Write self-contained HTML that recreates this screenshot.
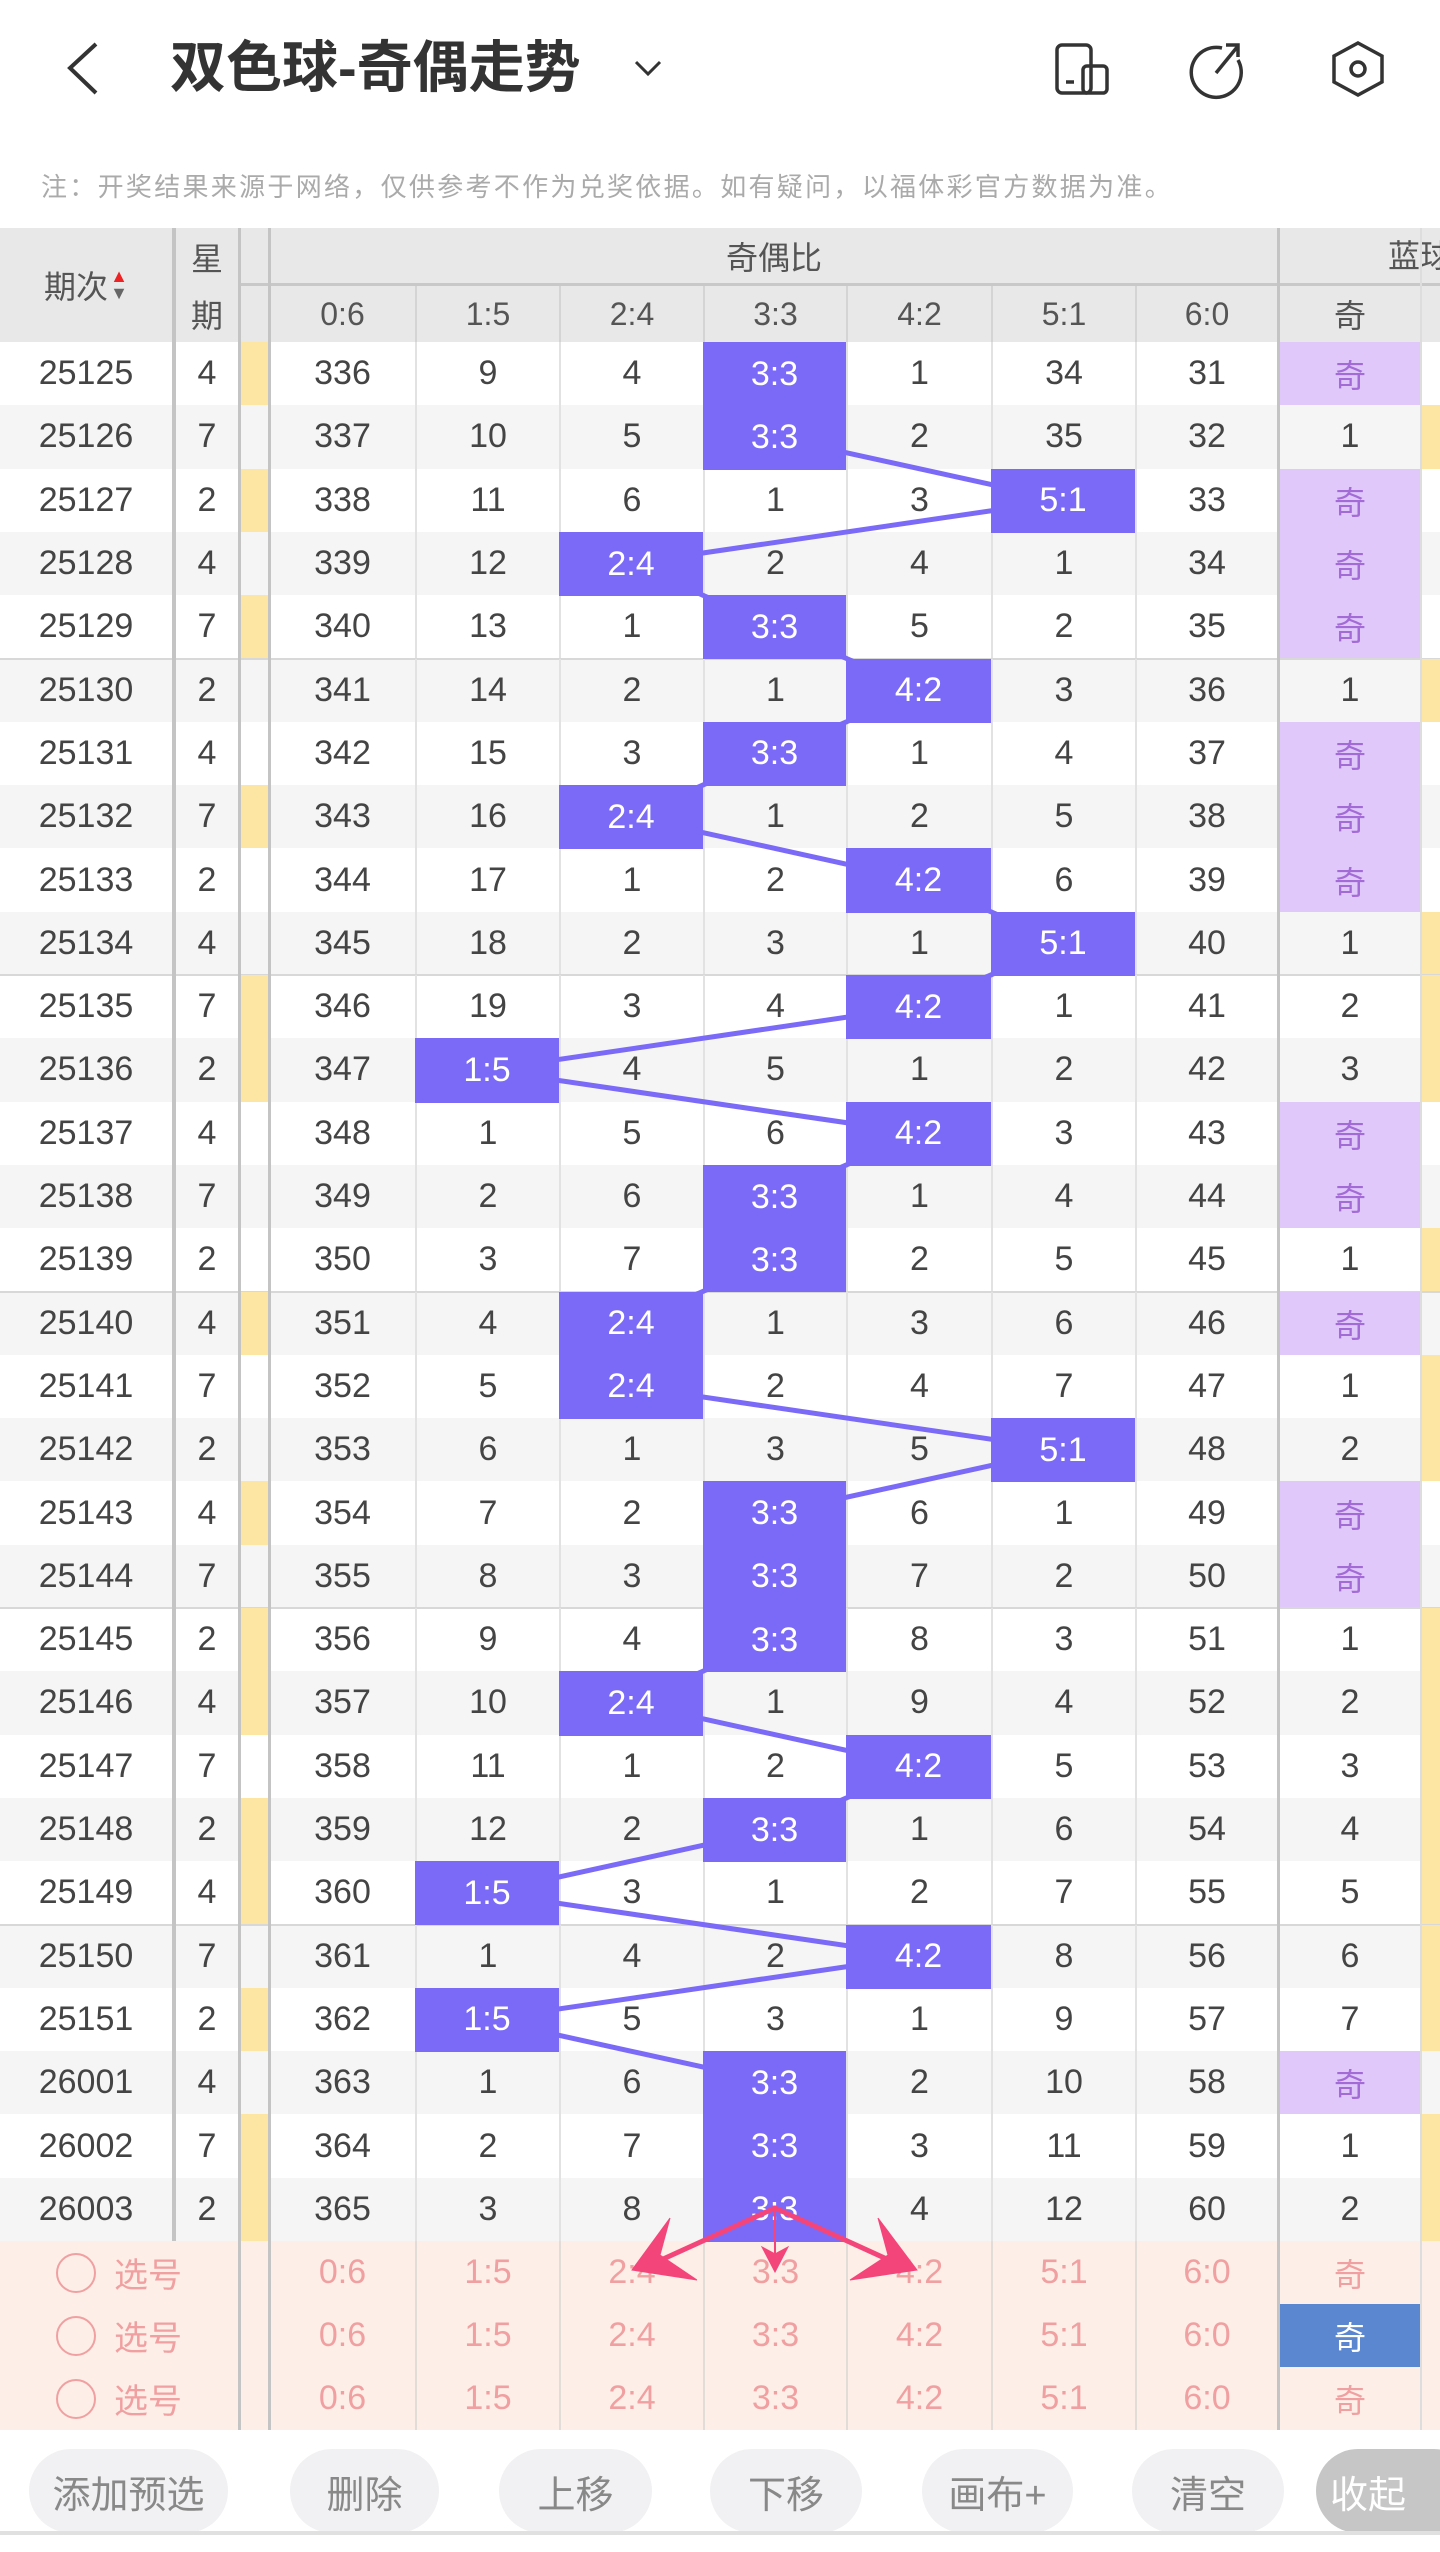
<!DOCTYPE html>
<html><head><meta charset="utf-8">
<style>
*{margin:0;padding:0;box-sizing:border-box}
body{width:1440px;height:2552px;background:#fff;font-family:"Liberation Sans","Noto Sans CJK SC",sans-serif;position:relative;overflow:hidden}
.a{position:absolute}
.c{position:absolute;display:flex;align-items:center;justify-content:center;white-space:nowrap}
</style></head><body>
<div id="root"></div>
<script>
var H='';
function box(x,y,w,h,st,txt){H+='<div class="c" style="left:'+x+'px;top:'+y+'px;width:'+w+'px;height:'+h+'px;'+st+'">'+(txt||'')+'</div>';}
H+='<svg class="a" style="left:0;top:0" width="1440" height="140"><polyline points="96,44 70,68 96,93" fill="none" stroke="#333" stroke-width="4"/><polyline points="636,62 648,74 660,62" fill="none" stroke="#333" stroke-width="3"/>'+
'<rect x="1057" y="45" width="34" height="48" rx="5" fill="none" stroke="#333" stroke-width="3.5"/><rect x="1083" y="66" width="24" height="27" rx="4" fill="none" stroke="#333" stroke-width="3.5"/><line x1="1066" y1="82" x2="1074" y2="82" stroke="#333" stroke-width="3.5"/>'+
'<path d="M1222,48 A25,25 0 1 0 1238,60" fill="none" stroke="#333" stroke-width="3.5"/><line x1="1216" y1="73" x2="1238" y2="46" stroke="#333" stroke-width="3.5"/><polyline points="1226,45 1238,45 1238,57" fill="none" stroke="#333" stroke-width="3.5"/>'+
'<polygon points="1358,43 1382,56 1382,82 1358,95 1334,82 1334,56" fill="none" stroke="#333" stroke-width="3.5"/><circle cx="1358" cy="69" r="7" fill="none" stroke="#333" stroke-width="3.5"/></svg>';
H+='<div class="a" style="left:170px;top:34px;font-size:56px;font-weight:bold;color:#333;line-height:68px;white-space:nowrap">双色球-奇偶走势</div>';
H+='<div class="a" style="left:41px;top:172px;font-size:26px;letter-spacing:2.3px;color:#aaa;line-height:30px;white-space:nowrap">注：开奖结果来源于网络，仅供参考不作为兑奖依据。如有疑问，以福体彩官方数据为准。</div>';
var cx=[270,415,559,703,846,991,1135,1277];
var labels=['0:6','1:5','2:4','3:3','4:2','5:1','6:0'];
box(0,228,1440,114,'background:#e8e8e8');
box(0,228,172,114,'font-size:32px;color:#555','期次<span style="display:inline-block;width:18px;margin-left:2px;font-size:18px;line-height:17px;text-align:center"><span style="color:#e22">▲</span><br><span style="color:#666">▼</span></span>');
box(176,228,62,57,'font-size:32px;color:#555','星');
box(176,285,62,57,'font-size:32px;color:#555','期');
box(271,228,1006,56,'font-size:32px;color:#555','奇偶比');
H+='<div class="a" style="left:1388px;top:238px;font-size:32px;color:#555;white-space:nowrap;line-height:36px">蓝球</div>';
H+='<div class="a" style="left:238px;top:283px;width:1202px;height:3px;background:#c8c8c8"></div>';
for(var i=0;i<7;i++){box(cx[i],286,cx[i+1]-cx[i],56,'font-size:32px;color:#555;border-left:'+(i?'2px solid #d4d4d4':'none'),labels[i]);}
box(1280,286,140,56,'font-size:32px;color:#555','奇');
var D=[
['25125',4,1,[336,9,4,0,1,34,31],3,'奇'],['25126',7,0,[337,10,5,0,2,35,32],3,'1'],['25127',2,1,[338,11,6,1,3,0,33],5,'奇'],['25128',4,0,[339,12,0,2,4,1,34],2,'奇'],['25129',7,1,[340,13,1,0,5,2,35],3,'奇'],
['25130',2,0,[341,14,2,1,0,3,36],4,'1'],['25131',4,0,[342,15,3,0,1,4,37],3,'奇'],['25132',7,1,[343,16,0,1,2,5,38],2,'奇'],['25133',2,0,[344,17,1,2,0,6,39],4,'奇'],['25134',4,0,[345,18,2,3,1,0,40],5,'1'],
['25135',7,1,[346,19,3,4,0,1,41],4,'2'],['25136',2,1,[347,0,4,5,1,2,42],1,'3'],['25137',4,0,[348,1,5,6,0,3,43],4,'奇'],['25138',7,0,[349,2,6,0,1,4,44],3,'奇'],['25139',2,0,[350,3,7,0,2,5,45],3,'1'],
['25140',4,1,[351,4,0,1,3,6,46],2,'奇'],['25141',7,0,[352,5,0,2,4,7,47],2,'1'],['25142',2,0,[353,6,1,3,5,0,48],5,'2'],['25143',4,1,[354,7,2,0,6,1,49],3,'奇'],['25144',7,0,[355,8,3,0,7,2,50],3,'奇'],
['25145',2,1,[356,9,4,0,8,3,51],3,'1'],['25146',4,1,[357,10,0,1,9,4,52],2,'2'],['25147',7,0,[358,11,1,2,0,5,53],4,'3'],['25148',2,1,[359,12,2,0,1,6,54],3,'4'],['25149',4,1,[360,0,3,1,2,7,55],1,'5'],
['25150',7,0,[361,1,4,2,0,8,56],4,'6'],['25151',2,1,[362,0,5,3,1,9,57],1,'7'],['26001',4,0,[363,1,6,0,2,10,58],3,'奇'],['26002',7,1,[364,2,7,0,3,11,59],3,'1'],['26003',2,1,[365,3,8,0,4,12,60],3,'2']];
var RH=63.3,T=342;
var pts=[];
for(var r=0;r<30;r++){
 var y=T+r*RH,d=D[r],bg=r%2?'#f5f5f5':'#fff';
 box(0,y,1440,RH+1,'background:'+bg);
 if(r%5==0&&r>0)H+='<div class="a" style="left:0;top:'+(y-1)+'px;width:1440px;height:2px;background:#d8d8d8"></div>';
 box(0,y,172,RH,'font-size:34px;color:#444',d[0]);
 box(176,y,62,RH,'font-size:34px;color:#444',d[1]);
 if(d[2])box(241,y,27,RH,'background:#fde5a3');
 for(var i=0;i<7;i++){
  if(i==d[4]){box(cx[i],y,cx[i+1]-cx[i],RH+1,'font-size:34px;color:#fff;background:#7a6af7;z-index:3',labels[i]);pts.push([(cx[i]+cx[i+1])/2,y+RH/2]);}
  else box(cx[i],y,cx[i+1]-cx[i],RH,'font-size:34px;color:#444;border-left:'+(i?'2px solid #e2e2e2':'none'),d[3][i]);
 }
 if(d[5]=='奇')box(1280,y,140,RH+1,'font-size:32px;color:#a26bd6;background:#e1c8fb','奇');
 else{box(1280,y,140,RH,'font-size:34px;color:#444',d[5]);box(1422,y,18,RH+1,'background:#fde5a3');}
}
var pl='';for(var k=0;k<pts.length;k++)pl+=pts[k][0]+','+pts[k][1]+' ';
H+='<svg class="a" style="left:0;top:0;z-index:2" width="1440" height="2552"><polyline points="'+pl+'" fill="none" stroke="#7a6af7" stroke-width="5"/></svg>';
box(0,2241,1440,189,'background:#fdeee8');
for(var r=0;r<3;r++){
 var y=2241+r*63;
 box(0,y,238,63,'font-size:34px;color:#f0a0a0','<span style="display:inline-block;width:40px;height:40px;border:2px solid #f0a0a0;border-radius:50%;margin-right:18px"></span>选号');
 for(var i=0;i<7;i++)box(cx[i],y,cx[i+1]-cx[i],63,'font-size:34px;color:#f0a0a0;border-left:'+(i?'2px solid #e2dcd8':'none'),labels[i]);
 if(r==1)box(1280,y,140,63,'font-size:32px;color:#fff;background:#5b86d0','奇');
 else box(1280,y,140,63,'font-size:32px;color:#f0a0a0','奇');
}
H+='<div class="a" style="left:172px;top:228px;width:4px;height:2013px;background:#c4c4c4;z-index:4"></div>';
[[238,3],[268,3],[1277,3]].forEach(function(v){H+='<div class="a" style="left:'+v[0]+'px;top:228px;width:'+v[1]+'px;height:2202px;background:#c4c4c4;z-index:4"></div>';});
H+='<div class="a" style="left:1420px;top:228px;width:2px;height:2202px;background:#ddd;z-index:4"></div>';
H+='<svg class="a" style="left:0;top:0;z-index:6" width="1440" height="2552"><g fill="#f4457a" stroke="#f4457a" stroke-width="5" stroke-linecap="round">'+
'<line x1="775" y1="2208" x2="650" y2="2265"/><line x1="775" y1="2208" x2="900" y2="2265"/>'+
'<polygon stroke-width="1" points="632,2270 670,2218 660,2255 697,2280"/><polygon stroke-width="1" points="917,2270 878,2218 888,2255 850,2280"/>'+
'<line x1="775" y1="2208" x2="775" y2="2262" stroke-width="2"/><polygon stroke-width="1" points="775,2272 762,2247 775,2254 788,2247"/></g></svg>';
var btn=[[29,199,'添加预选'],[290,149,'删除'],[499,153,'上移'],[710,152,'下移'],[922,151,'画布+'],[1132,152,'清空']];
btn.forEach(function(b){box(b[0],2449,b[1],84,'background:#f1f1f3;border-radius:42px;font-size:38px;color:#888',b[2]);});
box(1316,2449,160,84,'background:#c6c6c6;border-radius:42px;font-size:38px;color:#fff;justify-content:flex-start;padding-left:14px','收起');
H+='<div class="a" style="left:0;top:2531px;width:1440px;height:4px;background:#e0e0e0"></div>';
document.getElementById('root').innerHTML=H;
</script>
</body></html>
